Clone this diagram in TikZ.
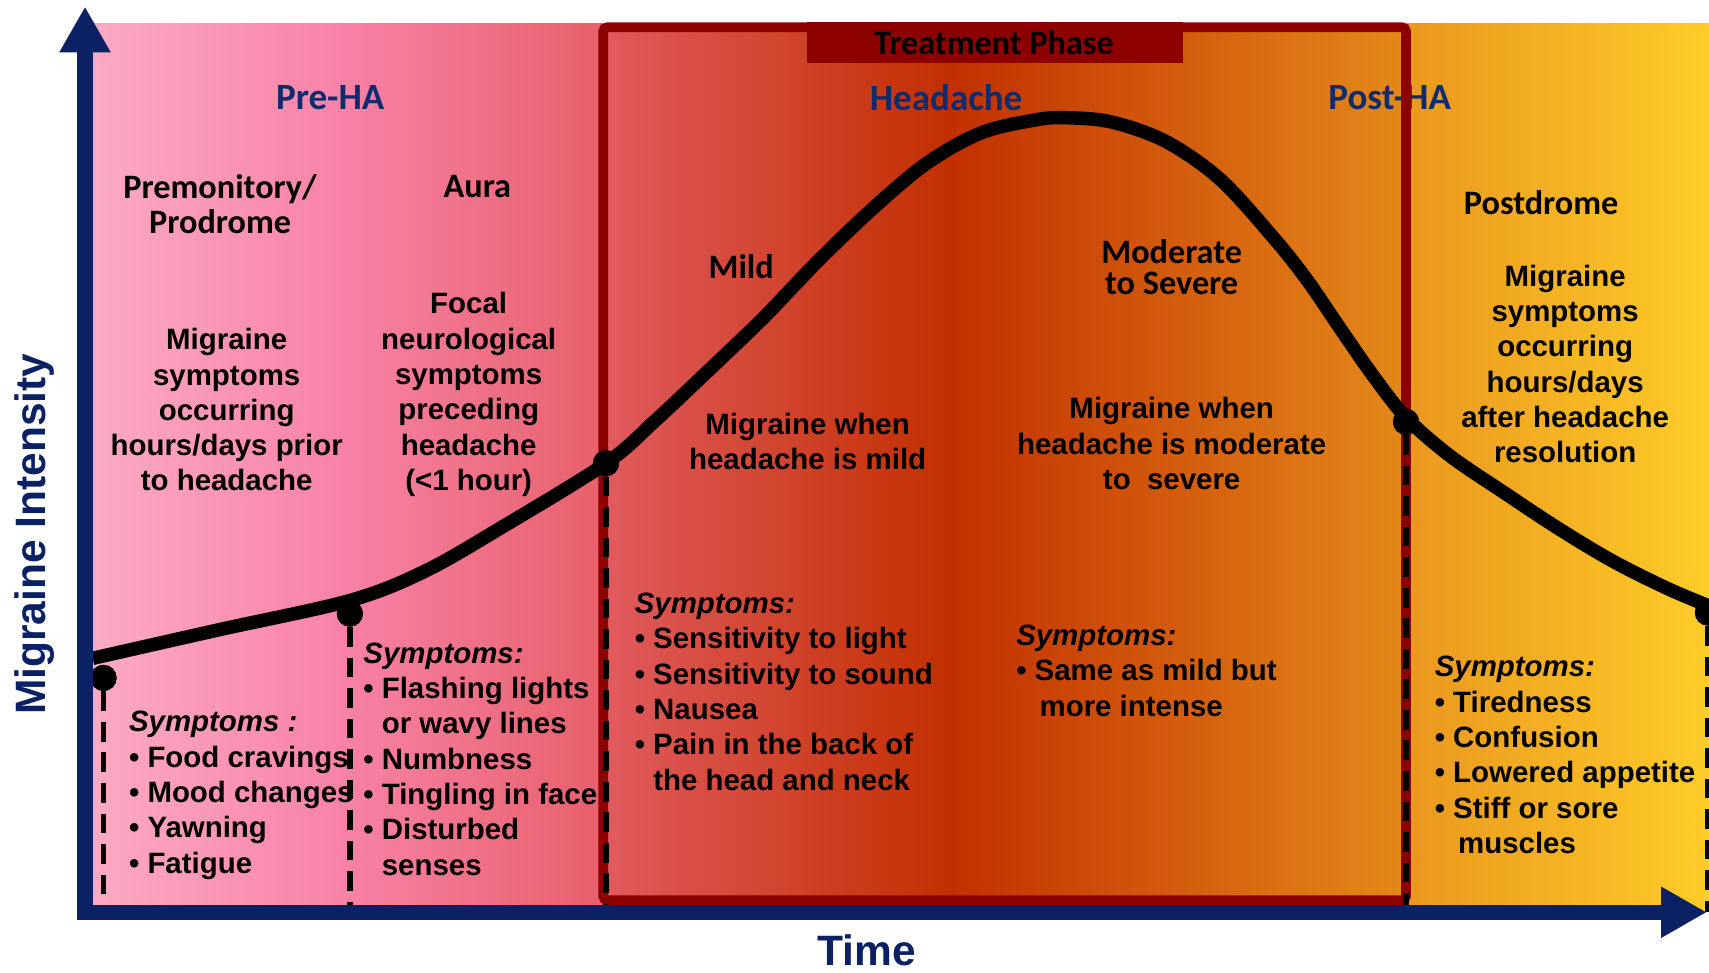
\documentclass[tikz,border=0pt]{standalone}
\usepackage{fontspec}
\setmainfont{Liberation Sans}
\newfontfamily\califont{Carlito}
\usetikzlibrary{arrows.meta}
\definecolor{navy}{HTML}{0B2163}
\definecolor{headnavy}{HTML}{102C6C}
\definecolor{framered}{HTML}{8C0000}
\definecolor{ga}{HTML}{FCAAC4}
\definecolor{gb}{HTML}{F984AA}
\definecolor{gc}{HTML}{E7606A}
\definecolor{gd}{HTML}{E15A5E}
\definecolor{ge}{HTML}{C22F00}
\definecolor{gf}{HTML}{E4891A}
\definecolor{gg}{HTML}{EA971E}
\definecolor{gh}{HTML}{FBC427}
\definecolor{gi}{HTML}{FECD29}
\begin{document}
\begin{tikzpicture}[x=0.5pt,y=-0.5pt,
  body/.style={font=\bfseries\fontsize{13.5}{16.2}\selectfont, align=center, inner sep=0pt},
  lst/.style={font=\bfseries\fontsize{13.5}{16.2}\selectfont, align=left, inner sep=0pt, anchor=base west},
  cal/.style={font=\califont\bfseries\fontsize{15.7}{16}\selectfont, align=center, inner sep=0pt},
  phase/.style={font=\califont\bfseries\fontsize{17}{20}\selectfont, text=headnavy, inner sep=0pt},
  axlabel/.style={font=\bfseries\fontsize{19.5}{20}\selectfont, text=navy, inner sep=0pt},
  dashv/.style={draw=black, line width=2.6pt, dash pattern=on 9pt off 5pt},
  dotn/.style={circle, fill=black, minimum size=12pt, inner sep=0pt},
  axisline/.style={draw=navy, line width=7pt},
]
\useasboundingbox (0,0) rectangle (1568,892);
% background gradient
\fill[left color=ga, right color=gb] (85,22) rectangle (301,836);
\fill[left color=gb, right color=gc] (300,22) rectangle (554,836);
\fill[left color=gd, right color=ge] (553,22) rectangle (871,836);
\fill[left color=ge, right color=gf] (870,22) rectangle (1291,836);
\fill[left color=gg, right color=gh] (1290,22) rectangle (1526,836);
\fill[left color=gh, right color=gi] (1525,22) rectangle (1568,836);

% phase headings
\node[phase] (preha) at (303,90) {Pre-HA};
\node[phase] (headache) at (868,90) {Headache};
\node[phase] (postha) at (1275,90) {Post-HA};

% treatment frame
\draw[framered, line width=4.5pt, rounded corners=2pt] (553.5,25) rectangle (1290,826);
\fill[framered] (740,20) rectangle (1085,58);
\node[cal] (tp) at (912,39) {Treatment Phase};

% sub-phase titles
\node[cal] (prem) at (202,187) {Premonitory/\\Prodrome};
\node[cal] (aura) at (438,171) {Aura};
\node[cal] (mild) at (680,245) {Mild};
\node[cal, font=\califont\bfseries\fontsize{15.7}{14}\selectfont] (mod) at (1075,245) {Moderate\\to Severe};
\node[cal] (postd) at (1414,186) {Postdrome};

% descriptions
\node[body] (prodesc) at (208,376) {Migraine\\symptoms\\occurring\\hours/days prior\\to headache};
\node[body] (auradesc) at (430,362) {Focal\\neurological\\symptoms\\preceding\\headache\\(<1 hour)};
\node[body] (milddesc) at (741,405) {Migraine when\\headache is mild};
\node[body] (sevdesc) at (1075,407) {Migraine when\\headache is moderate\\to\ \ severe};
\node[body] (postdesc) at (1436,334) {Migraine\\symptoms\\occurring\\hours/days\\after headache\\resolution};

% symptom lists (anchor = baseline of the last line)
\node[lst] (sym1) at (118,801) {\textit{Symptoms :}\\\textbullet\ Food cravings\\\textbullet\ Mood changes\\\textbullet\ Yawning\\\textbullet\ Fatigue};
\node[lst] (sym2) at (333,803) {\textit{Symptoms:}\\\textbullet\ Flashing lights\\\hphantom{\textbullet\ }or wavy lines\\\textbullet\ Numbness\\\textbullet\ Tingling in face\\\textbullet\ Disturbed\\\hphantom{\textbullet\ }senses};
\node[lst] (sym3) at (582,725) {\textit{Symptoms:}\\\textbullet\ Sensitivity to light\\\textbullet\ Sensitivity to sound\\\textbullet\ Nausea\\\textbullet\ Pain in the back of\\\hphantom{\textbullet\ }the head and neck};
\node[lst] (sym4) at (932,657) {\textit{Symptoms:}\\\textbullet\ Same as mild but\\\hphantom{\textbullet\ }\,more intense};
\node[lst] (sym5) at (1316,783) {\textit{Symptoms:}\\\textbullet\ Tiredness\\\textbullet\ Confusion\\\textbullet\ Lowered appetite\\\textbullet\ Stiff or sore\\\hphantom{\textbullet\ }\,muscles};

% axis coordinates
\coordinate (ytip) at (78,6);
\coordinate (orig) at (78,837);
\coordinate (xtip) at (1566,837);

% dots
\node[dotn] (d1) at (95,622) {};
\node[dotn] (d2) at (321,563) {};
\node[dotn] (d3) at (556,425) {};
\node[dotn] (d4) at (1290,387) {};
\node[dotn] (d5) at (1567,562) {};

% dashed drop lines
\draw[dashv] (d1) -- (d1 |- orig);
\draw[dashv] (d2) -- (d2 |- orig);
\draw[dashv] (d3) -- (d3 |- orig);
\draw[dashv] (d4) -- (d4 |- orig);
\draw[dashv] (d5) -- (d5 |- orig);

% intensity curve
\draw[line width=6.2pt] plot[smooth, tension=0.55] coordinates {
 (85,604) (200,578) (321,551) (390,524) (460,484) (556,425) (600,387) (650,340)
 (700,292) (750,240) (800,192) (850,150) (900,122) (950,110) (978,108) (1020,112)
 (1070,130) (1120,165) (1170,220) (1200,258) (1230,302) (1260,345) (1290,383)
 (1330,418) (1380,452) (1430,485) (1480,515) (1530,540) (1568,556)};

% dots on top
\fill (d1) circle (6pt);
\fill (d2) circle (6pt);
\fill (d3) circle (6pt);
\fill (d4) circle (6pt);
\fill (d5) circle (6pt);

% axes
\draw[axisline, {Triangle[length=21pt,width=22pt]}-{Triangle[length=21pt,width=22pt]}] (ytip) -- (orig) -- (xtip);

% axis labels
\node[axlabel, rotate=90] (ylab) at (32,490) {Migraine Intensity};
\node[axlabel] (xlab) at (795,872) {Time};
\end{tikzpicture}
\end{document}
